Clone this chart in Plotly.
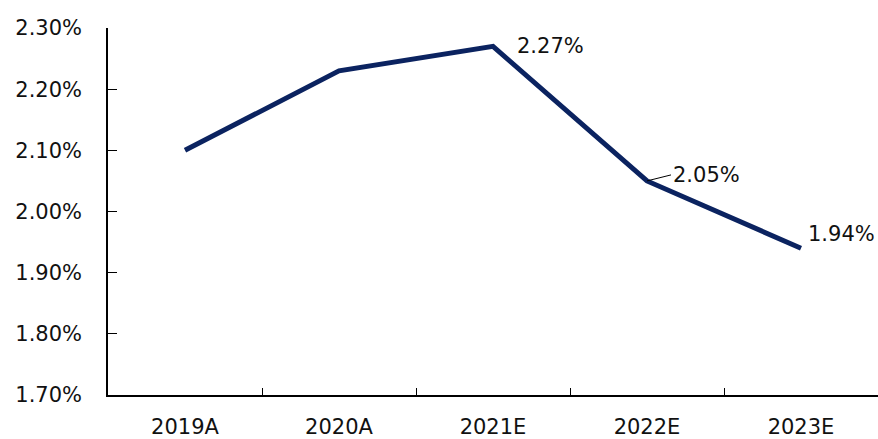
import plotly.graph_objects as go

# data
years = ["2019A", "2020A", "2021E", "2022E", "2023E"]
rates = [2.10, 2.23, 2.27, 2.05, 1.94]
y_ticks = [1.70, 1.80, 1.90, 2.00, 2.10, 2.20, 2.30]

navy = "#0b2360"
font_family = "DejaVu Sans"

fig = go.Figure(go.Scatter(
    x=years, y=rates, mode="lines",
    line=dict(color=navy, width=5),
    hoverinfo="skip",
))

# data labels on the estimate years
fig.add_annotation(x=years[2], y=rates[2], text=f"{rates[2]:.2f}%", showarrow=False,
                   xanchor="left", yanchor="middle", xshift=22, yshift=0)
fig.add_annotation(x=years[3], y=rates[3], text=f"{rates[3]:.2f}%", showarrow=True,
                   arrowhead=0, arrowwidth=1, arrowcolor="#000000",
                   ax=24, ay=-6, xanchor="left", yanchor="middle")
fig.add_annotation(x=years[4], y=rates[4], text=f"{rates[4]:.2f}%", showarrow=False,
                   xanchor="left", yanchor="middle", xshift=5, yshift=14)

fig.update_annotations(font=dict(family=font_family, size=21, color="#111111"))

fig.update_layout(
    width=878, height=439,
    margin=dict(l=108, r=0, t=28, b=44, autoexpand=False),
    paper_bgcolor="white", plot_bgcolor="white",
    showlegend=False,
    font=dict(family=font_family, size=21, color="#111111"),
    xaxis=dict(
        type="category", showgrid=False, showline=True, linecolor="#000000", linewidth=1.5,
        ticks="inside", tickson="boundaries", ticklen=7, tickcolor="#000000",
        ticklabelstandoff=12, range=[-0.5, 4.5],
    ),
    yaxis=dict(
        range=[1.70, 2.30], tickvals=y_ticks,
        ticktext=[f"{v:.2f}%" for v in y_ticks],
        showgrid=False, zeroline=False, showline=True, linecolor="#000000", linewidth=1.5,
        ticks="inside", ticklen=9, tickcolor="#000000", ticklabelstandoff=20,
    ),
)

fig.write_html("out.html", config={"displayModeBar": False},
               post_script="document.body.style.margin='0';")
